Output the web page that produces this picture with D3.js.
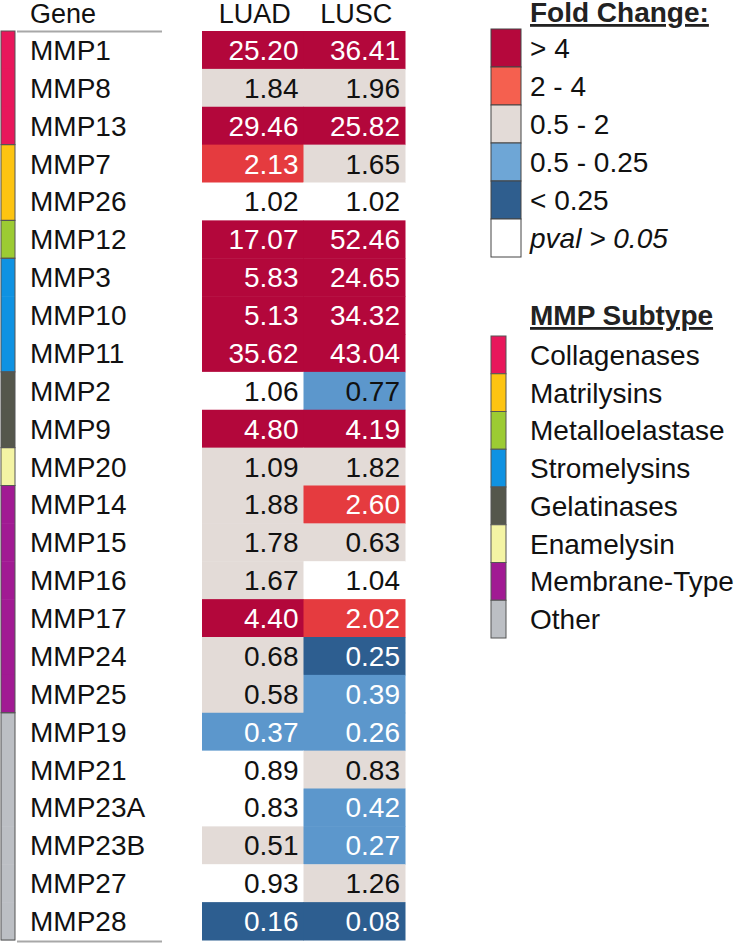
<!DOCTYPE html>
<html><head><meta charset="utf-8">
<script src="https://cdn.jsdelivr.net/npm/d3@7"></script>
<style>body{margin:0;background:#fff}svg{display:block}text{font-family:"Liberation Sans",Arial,sans-serif}</style>
</head><body><svg id="c" width="738" height="944"></svg>
<script>
const genes = ["MMP1","MMP8","MMP13","MMP7","MMP26","MMP12","MMP3","MMP10","MMP11","MMP2","MMP9","MMP20","MMP14","MMP15","MMP16","MMP17","MMP24","MMP25","MMP19","MMP21","MMP23A","MMP23B","MMP27","MMP28"];
const subtypeOfGene = ["Collagenases","Collagenases","Collagenases","Matrilysins","Matrilysins","Metalloelastase","Stromelysins","Stromelysins","Stromelysins","Gelatinases","Gelatinases","Enamelysin","Membrane-Type","Membrane-Type","Membrane-Type","Membrane-Type","Membrane-Type","Membrane-Type","Other","Other","Other","Other","Other","Other"];
const columns = ["LUAD","LUSC"];
const luadValues = [25.20,1.84,29.46,2.13,1.02,17.07,5.83,5.13,35.62,1.06,4.80,1.09,1.88,1.78,1.67,4.40,0.68,0.58,0.37,0.89,0.83,0.51,0.93,0.16];
const luscValues = [36.41,1.96,25.82,1.65,1.02,52.46,24.65,34.32,43.04,0.77,4.19,1.82,2.60,0.63,1.04,2.02,0.25,0.39,0.26,0.83,0.42,0.27,1.26,0.08];
// fold-change class per cell: hi (>4), up (2-4), mid (0.5-2), lo (0.5-0.25), vlo (<0.25), ns (pval>0.05)
const luadClass = ["hi","mid","hi","up","ns","hi","hi","hi","hi","ns","hi","mid","mid","mid","mid","hi","mid","mid","lo","ns","ns","mid","ns","vlo"];
const luscClass = ["hi","mid","hi","mid","ns","hi","hi","hi","hi","lo","hi","mid","up","mid","ns","up","vlo","lo","lo","mid","lo","lo","mid","vlo"];
const foldClasses = ["hi","up","mid","lo","vlo","ns"];
const foldLabels = ["> 4","2 - 4","0.5 - 2","0.5 - 0.25","< 0.25","pval > 0.05"];
const subtypes = ["Collagenases","Matrilysins","Metalloelastase","Stromelysins","Gelatinases","Enamelysin","Membrane-Type","Other"];

const cellColor = d3.scaleOrdinal().domain(foldClasses).range(["#b3073b","#e53b3f","#e3dbd7","#5c97cc","#2d5e90","#ffffff"]);
const legendColor = d3.scaleOrdinal().domain(foldClasses).range(["#b5083c","#f5604f","#e3dbd7","#6ea6d6","#2f5e8e","#ffffff"]);
const subColor = d3.scaleOrdinal().domain(subtypes).range(["#e8175b","#fdc411","#9ccb33","#0f92e2","#55574c","#f4f4a4","#a11a93","#bcbfc4"]);

const svg = d3.select("#c");
const y = d3.scaleBand().domain(genes).range([31, 940]);
const x = d3.scaleBand().domain(columns).range([202, 405]);
const FS = 28;

// header
svg.append("text").attr("x",30).attr("y",23).attr("font-size",27).attr("fill","#111").text("Gene");
columns.forEach(c=>{
  svg.append("text").attr("x",x(c)+x.bandwidth()/2+2).attr("y",23).attr("text-anchor","middle").attr("font-size",27).attr("fill","#111").text(c);
});
svg.append("line").attr("x1",17).attr("x2",162).attr("y1",31.5).attr("y2",31.5).attr("stroke","#a8a8a8").attr("stroke-width",2);
svg.append("line").attr("x1",17).attr("x2",162).attr("y1",941.5).attr("y2",941.5).attr("stroke","#a8a8a8").attr("stroke-width",2);

// subtype bar
const rows = genes.map((g,i)=>({g,i,sub:subtypeOfGene[i],vals:[luadValues[i],luscValues[i]],cls:[luadClass[i],luscClass[i]]}));
const barG = svg.append("g");
barG.selectAll("rect").data(rows).join("rect")
  .attr("x",1).attr("width",14).attr("y",d=>y(d.g)).attr("height",y.bandwidth()+0.5)
  .attr("fill",d=>subColor(d.sub));
const groups = d3.groups(rows,d=>d.sub);
groups.forEach(([s,arr])=>{
  const y0 = y(arr[0].g), y1 = y(arr[arr.length-1].g)+y.bandwidth();
  barG.append("rect").attr("x",1).attr("width",14).attr("y",y0).attr("height",y1-y0).attr("fill","none").attr("stroke","#555").attr("stroke-width",1);
});

// gene labels
svg.selectAll("text.gene").data(rows).join("text").attr("class","gene")
  .attr("x",30).attr("y",d=>y(d.g)+y.bandwidth()/2+10).attr("font-size",FS).attr("fill","#111").text(d=>d.g);

// cells
const cells = rows.flatMap(r=>columns.map((c,j)=>({g:r.g,col:c,v:r.vals[j],cls:r.cls[j]})));
svg.selectAll("rect.cell").data(cells).join("rect").attr("class","cell")
  .attr("x",d=>x(d.col)).attr("y",d=>y(d.g)).attr("width",x.bandwidth()+0.5).attr("height",y.bandwidth()+0.5)
  .attr("fill",d=>cellColor(d.cls));
svg.selectAll("text.val").data(cells).join("text").attr("class","val")
  .attr("x",d=>x(d.col)+x.bandwidth()-5).attr("y",d=>y(d.g)+y.bandwidth()/2+10)
  .attr("text-anchor","end").attr("font-size",FS)
  .attr("fill",d=>(d.v>2||d.v<0.5)?"#ffffff":"#111")
  .text(d=>d.v.toFixed(2));

// Fold change legend
const ly = d3.scaleBand().domain(foldClasses).range([29,257]);
svg.append("text").attr("x",530).attr("y",22).attr("font-size",FS).attr("font-weight","bold").attr("fill","#222")
  .attr("text-decoration","underline").text("Fold Change:");
svg.selectAll("rect.fl").data(foldClasses).join("rect").attr("class","fl")
  .attr("x",491).attr("width",30).attr("y",d=>ly(d)).attr("height",ly.bandwidth())
  .attr("fill",d=>legendColor(d)).attr("stroke","#444").attr("stroke-width",1);
svg.selectAll("text.fl").data(foldClasses).join("text").attr("class","fl")
  .attr("x",530).attr("y",d=>ly(d)+ly.bandwidth()/2+10).attr("font-size",FS).attr("fill","#111")
  .attr("font-style",d=>d==="ns"?"italic":"normal")
  .text((d,i)=>foldLabels[i]);

// subtype legend
const sy = d3.scaleBand().domain(subtypes).range([336,638]);
svg.append("text").attr("x",530).attr("y",325).attr("font-size",FS).attr("font-weight","bold").attr("fill","#222")
  .attr("text-decoration","underline").text("MMP Subtype");
svg.selectAll("rect.sl").data(subtypes).join("rect").attr("class","sl")
  .attr("x",491).attr("width",15).attr("y",d=>sy(d)).attr("height",sy.bandwidth())
  .attr("fill",d=>subColor(d)).attr("stroke","#555").attr("stroke-width",1);
svg.selectAll("text.sl").data(subtypes).join("text").attr("class","sl")
  .attr("x",530).attr("y",d=>sy(d)+sy.bandwidth()/2+10).attr("font-size",FS).attr("fill","#111")
  .text(d=>d);
</script></body></html>
